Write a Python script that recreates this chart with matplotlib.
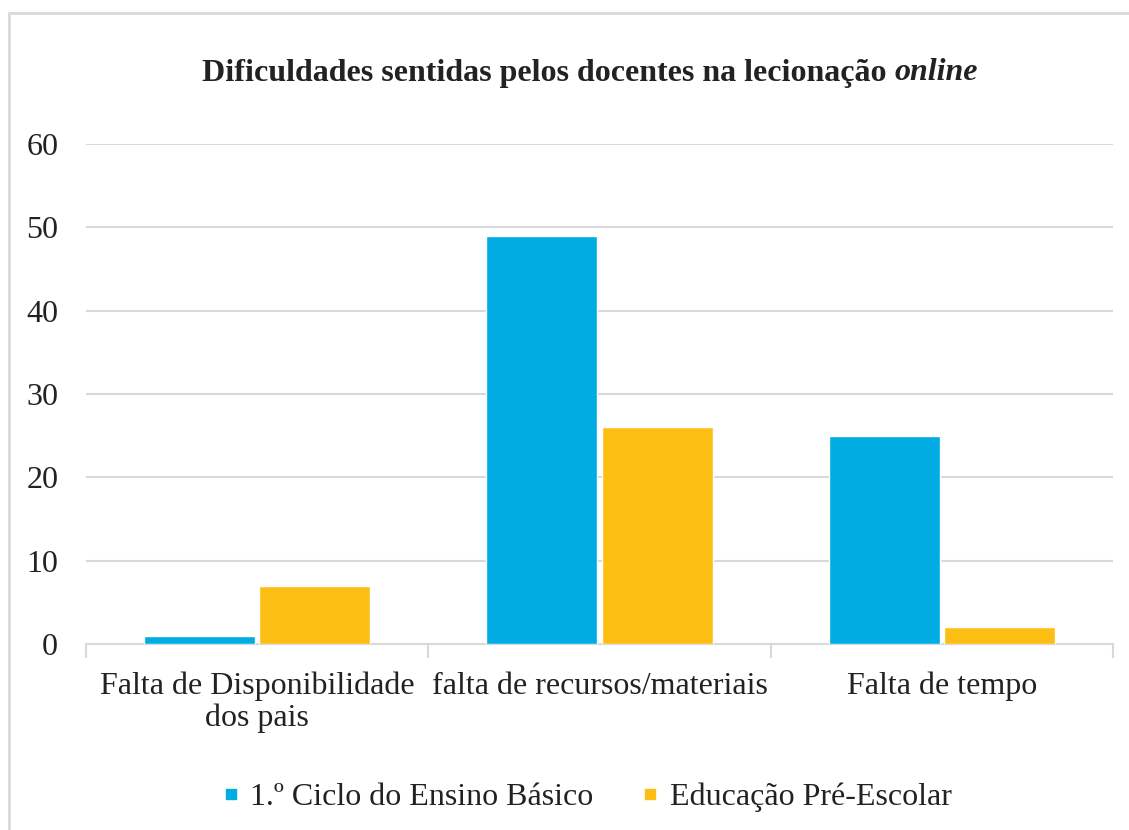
import matplotlib
matplotlib.use("Agg")
import matplotlib.pyplot as plt
from matplotlib.lines import Line2D
from matplotlib.patches import Rectangle
import numpy as np

categories = ["Falta de Disponibilidade\ndos pais", "falta de recursos/materiais", "Falta de tempo"]
ciclo1 = [1, 49, 25]
pre_escolar = [7, 26, 2]
series_names = ["1.º Ciclo do Ensino Básico", "Educação Pré-Escolar"]
yticks = [0, 10, 20, 30, 40, 50, 60]

blue = "#00ACE2"
orange = "#FDBE14"
grid_c = "#D9D9D9"
txt_c = "#222222"
fs = 23

plt.rcParams["font.family"] = ["Liberation Serif", "DejaVu Serif"]

fig = plt.figure(figsize=(11.29, 8.30), dpi=100)
ax = fig.add_axes([86 / 1129, 1 - 644 / 830, (1113 - 86) / 1129, 500 / 830])

x = np.arange(len(categories))
w = 0.325
ax.bar(x - w / 2 - 0.006, ciclo1, w, color=blue, edgecolor="white", linewidth=1, zorder=3)
ax.bar(x + w / 2 + 0.006, pre_escolar, w, color=orange, edgecolor="white", linewidth=1, zorder=3)

ax.set_xlim(-0.5, len(categories) - 0.5)
ax.set_ylim(0, 60)
ax.set_yticks(yticks)
ax.set_xticks(x)
ax.set_xticklabels(categories, fontsize=fs, color=txt_c, linespacing=1.1)
ax.set_xticks(np.arange(len(categories) + 1) - 0.5, minor=True)
ax.tick_params(axis="x", which="major", length=0, pad=20)
ax.tick_params(axis="x", which="minor", length=10, width=1.5, color=grid_c)
ax.tick_params(axis="y", length=0, pad=20, labelsize=fs, labelcolor=txt_c)
ax.yaxis.grid(True, color=grid_c, linewidth=1.5, zorder=0)
for s in ["top", "right", "left"]:
    ax.spines[s].set_visible(False)
ax.spines["bottom"].set_color(grid_c)
ax.spines["bottom"].set_linewidth(1.5)
ax.set_axisbelow(True)

# title: bold with bold-italic "online"
ty = 1 - 73 / 830
t1 = fig.text(0, ty, "Dificuldades sentidas pelos docentes na lecionação ", fontsize=fs,
              fontweight="bold", va="center", ha="left", color=txt_c)
t2 = fig.text(0, ty, "online", fontsize=fs, fontweight="bold", style="italic",
              va="center", ha="left", color=txt_c)
fig.canvas.draw()
r = fig.canvas.get_renderer()
w1 = t1.get_window_extent(r).width
w2 = t2.get_window_extent(r).width
x0 = 590 - (w1 + w2) / 2
t1.set_x(x0 / 1129)
t2.set_x((x0 + w1) / 1129)

handles = [Line2D([], [], marker="s", linestyle="none", markersize=6.5, color=blue),
           Line2D([], [], marker="s", linestyle="none", markersize=6.5, color=orange)]
fig.legend(handles, series_names, loc="center", bbox_to_anchor=(583 / 1129, 1 - 797 / 830),
           ncol=2, frameon=False, fontsize=fs, handletextpad=0.1, columnspacing=1.3,
           handlelength=1.0, labelcolor=txt_c)

fig.patches.append(Rectangle((9 / 1129, -0.1), 1.2, 1.1 - 13 / 830, transform=fig.transFigure,
                             fill=False, edgecolor=grid_c, linewidth=2))

fig.savefig("out.png", dpi=100)
